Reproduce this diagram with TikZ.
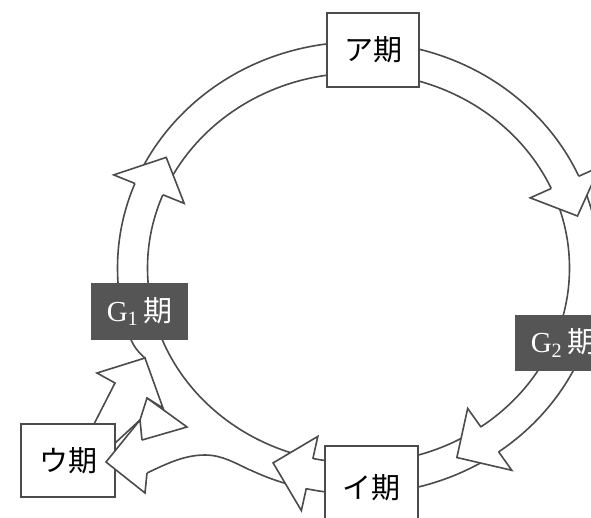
\documentclass[tikz,border=0pt]{standalone}
\usepackage{fontspec}
\setmainfont{Liberation Serif}
\newfontfamily\jp{Noto Sans CJK JP}
\usetikzlibrary{calc}
\definecolor{ln}{RGB}{75,75,75}
\definecolor{bxfill}{RGB}{85,85,85}
\tikzset{
  ringline/.style={draw=ln, line width=1.6pt},
  wbox/.style={draw=ln, line width=1.6pt, fill=white, inner sep=0pt, font=\fontsize{29}{29}\selectfont\jp},
  dbox/.style={draw=bxfill, fill=bxfill, line width=1.6pt, inner sep=0pt, text=white, font=\fontsize{29}{29}\selectfont},
  headfill/.style={fill=white},
  headline/.style={draw=ln, line width=1.6pt, line join=miter},
}
\newcommand{\ringpt}[3]{\coordinate (#1) at ({358.5+(226+#3)*cos(#2)},{268-(210.5+#3)*sin(#2)});}
\newcommand{\ringhead}[2]{%
  \ringpt{#1n1}{#2}{15}\ringpt{#1b1}{#2}{38}\ringpt{#1t}{#2-9.7}{0}%
  \ringpt{#1b2}{#2}{-38}\ringpt{#1n2}{#2}{-15}%
  \fill[headfill] (#1n1)--(#1b1)--(#1t)--(#1b2)--(#1n2)--cycle;
  \draw[headline] (#1n1)--(#1b1)--(#1t)--(#1b2)--(#1n2);}
\begin{document}
\begin{tikzpicture}[x=1pt,y=-1pt]
\fill[white] (0,0) rectangle (591,517);
\useasboundingbox (0,0) rectangle (591,517);
\coordinate (C) at (358.5,268);
% ring
\draw[ringline] (C) ellipse [x radius=211pt, y radius=195pt];
\draw[ringline] (C) ellipse [x radius=241pt, y radius=226pt];
% ring heads
\ringhead{h1}{158}
\ringhead{h2}{24}
\ringhead{h3}{-54.5}
\ringhead{h4}{-102.5}
% lower-left: hide the outer ring between G1 and the branch
\fill[white] (90,330) -- (134,330) -- (150,358) -- (166,380) -- (182,400) -- (200,420)
  -- (220,440) -- (240,455) -- (250,462) -- (250,520) -- (60,520) -- (60,330) -- cycle;
\coordinate (g1o) at (130,337);
\coordinate (ctip) at (145,358);
\coordinate (cbl) at (97,373);
\coordinate (cnl) at (115,383);
\coordinate (cbr) at (163,408);
\coordinate (cnr) at (147,398);
\coordinate (ushaft) at (93,426);
\coordinate (ushaftr) at (113,445);
\coordinate (bbu) at (140,420);
\coordinate (bnu) at (142,440);
\coordinate (btip) at (106,462);
\coordinate (bbl) at (145,493);
\coordinate (bnl) at (147,473);
\coordinate (dbr) at (187,427);
\coordinate (ojoin) at (250,470);
% outer arc from G1 down to the tip of the head from U
\draw[ringline] (g1o) .. controls (133,346) and (139,353) .. (ctip);
% head and shaft from U to G1
\draw[headline] (ushaft) -- (cnl) -- (cbl) -- (ctip) -- (cbr) -- (cnr) -- (bbu) -- (ushaftr);
\draw[headline] (bnu) -- (dbr) -- (cnr);
% branch towards U (lower edge)
\draw[ringline] (ojoin) .. controls (235,463) and (222,455) .. (205,455)
  .. controls (185,455) and (168,463) .. (bnl);
% boxes
\node[wbox, minimum width=92pt, minimum height=74pt] (A) at (373,50) {ア期};
\node[wbox, minimum width=93pt, minimum height=84pt] (I) at (371.5,488) {イ期};
\node[wbox, minimum width=94pt, minimum height=73pt] (U) at (68,460.5) {ウ期};
\node[dbox, minimum width=95pt, minimum height=55pt] (G1) at (139.5,311.5) {G\textsubscript{1}\,{\jp 期}};
\node[dbox, minimum width=95pt, minimum height=54pt] (G2) at (563.5,343) {G\textsubscript{2}\,{\jp 期}};
% head into U box
\fill[headfill] (bbu) -- (btip) -- (bbl) -- (bnl) -- (bnu) -- cycle;
\draw[headline] (bnu) -- (bbu) -- (btip) -- (bbl) -- (bnl);
\end{tikzpicture}
\end{document}
